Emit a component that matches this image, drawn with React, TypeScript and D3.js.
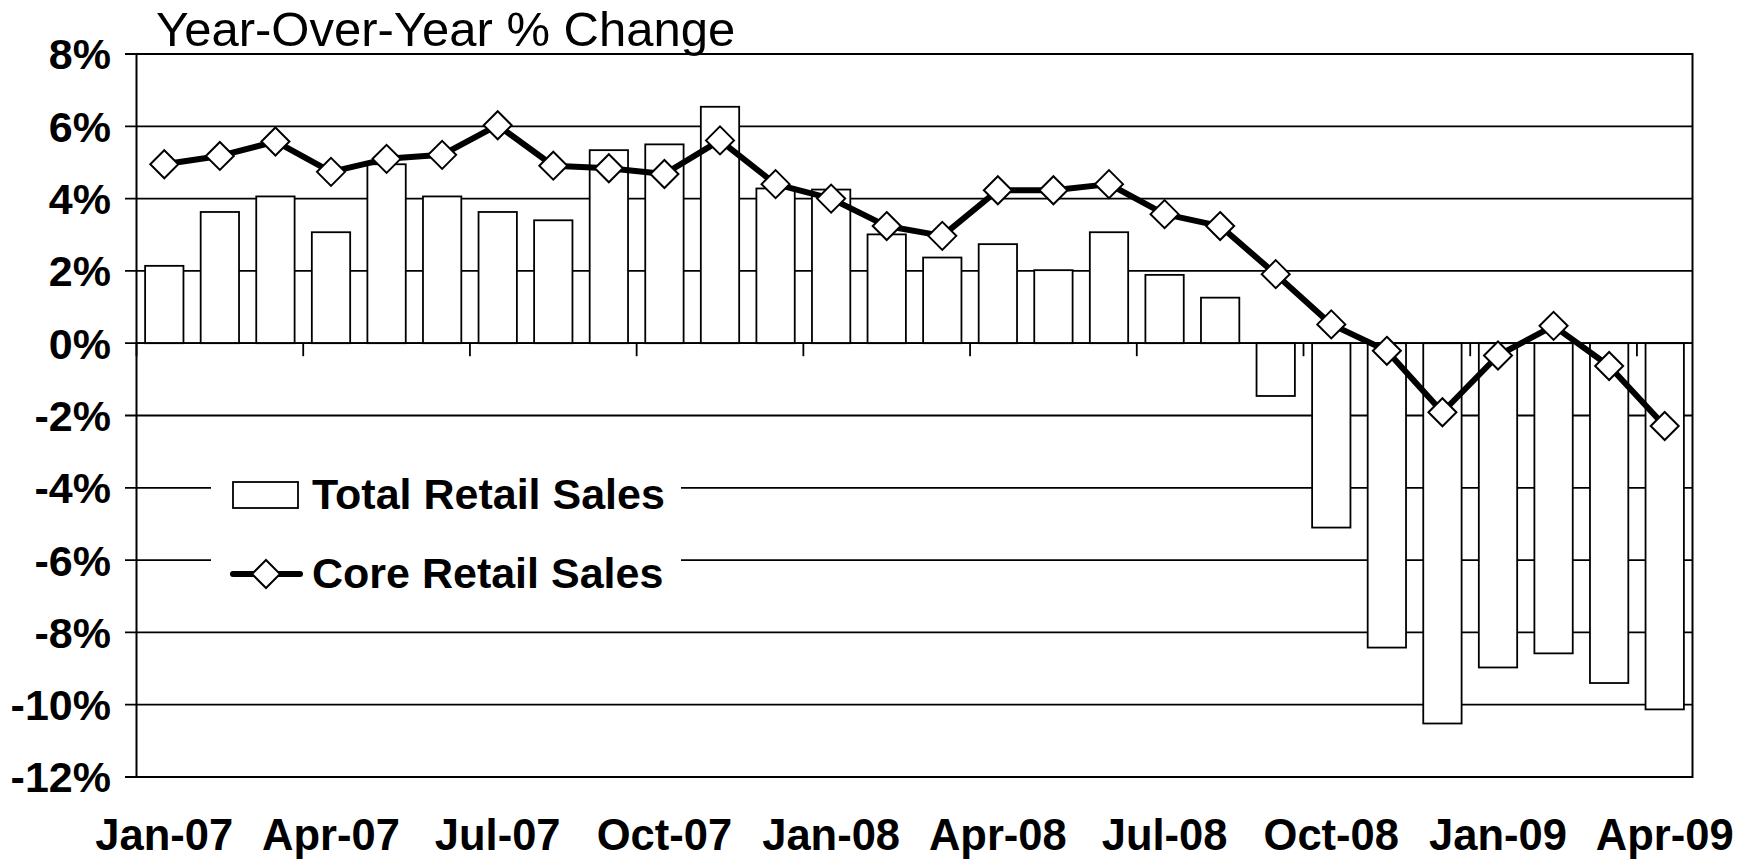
import React from "react";
import * as d3 from "d3";

const months = [
  "Jan-07","Feb-07","Mar-07","Apr-07","May-07","Jun-07","Jul-07","Aug-07","Sep-07","Oct-07","Nov-07","Dec-07",
  "Jan-08","Feb-08","Mar-08","Apr-08","May-08","Jun-08","Jul-08","Aug-08","Sep-08","Oct-08","Nov-08","Dec-08",
  "Jan-09","Feb-09","Mar-09","Apr-09",
];
const totalRetail = [
  2.14, 3.63, 4.06, 3.07, 4.95, 4.06, 3.63, 3.40, 5.34, 5.50, 6.54, 4.28,
  4.25, 3.01, 2.37, 2.74, 2.02, 3.07, 1.89, 1.26, -1.46, -5.10, -8.42, -10.52,
  -8.97, -8.58, -9.40, -10.13,
];
const coreRetail = [
  4.95, 5.18, 5.58, 4.74, 5.10, 5.21, 6.03, 4.91, 4.84, 4.68, 5.61, 4.40,
  4.00, 3.24, 2.97, 4.23, 4.23, 4.40, 3.57, 3.24, 1.91, 0.52, -0.21, -1.91,
  -0.34, 0.48, -0.63, -2.29,
];
const yTicks = [8, 6, 4, 2, 0, -2, -4, -6, -8, -10, -12];
const xLabelIdx = [0, 3, 6, 9, 12, 15, 18, 21, 24, 27];
const title = "Year-Over-Year % Change";
const legendLabels = ["Total Retail Sales", "Core Retail Sales"];

const W = 1749, H = 866;
const L = 136.5, R = 1692.5, T = 54, B = 777;
const FONT = "'Liberation Sans', Arial, Helvetica, sans-serif";

export default function App() {
  const idx = months.map((_, i) => i);
  const x = d3.scaleBand<number>().domain(idx).range([L, R]).paddingInner(0.31).paddingOuter(0.155);
  const xb = d3.scaleLinear().domain([0, months.length]).range([L, R]);
  const y = d3.scaleLinear().domain([-12, 8]).range([B, T]);
  const cx = (i: number) => (x(i) as number) + x.bandwidth() / 2;
  const line = d3.line<number>().x((_, i) => cx(i)).y((d) => y(d));
  const dm = 14;
  const diamond = (px: number, py: number) =>
    `M${px},${py - dm}L${px + dm},${py}L${px},${py + dm}L${px - dm},${py}Z`;

  return (
    <svg width={W} height={H} style={{ position: "absolute", left: 0, top: 0, background: "#fff" }}>
      <rect x={0} y={0} width={W} height={H} fill="#fff" />
      <text x={156} y={46} fontFamily={FONT} fontSize={49} fill="#000">{title}</text>
      {/* gridlines + y ticks */}
      {yTicks.map((t) => (
        <g key={t}>
          <line x1={125} x2={R} y1={y(t)} y2={y(t)} stroke="#000" strokeWidth={1.8} />
          <text x={111} y={y(t)} dy="0.36em" textAnchor="end" fontFamily={FONT} fontWeight="bold" fontSize={43} fill="#000">
            {t}%
          </text>
        </g>
      ))}
      {/* bars */}
      {totalRetail.map((v, i) => (
        <rect key={i} x={x(i)} y={Math.min(y(v), y(0))} width={x.bandwidth()} height={Math.abs(y(v) - y(0))}
          fill="#fff" stroke="#000" strokeWidth={1.8} />
      ))}
      {/* zero axis and ticks */}
      <line x1={L} x2={R} y1={y(0)} y2={y(0)} stroke="#000" strokeWidth={1.8} />
      {xLabelIdx.map((i) => (
        <line key={i} x1={xb(i)} x2={xb(i)} y1={y(0)} y2={y(0) + 13} stroke="#000" strokeWidth={1.8} />
      ))}
      {/* plot border */}
      <rect x={L} y={T} width={R - L} height={B - T} fill="none" stroke="#000" strokeWidth={2} />
      {/* core line */}
      <path d={line(coreRetail) || ""} fill="none" stroke="#000" strokeWidth={6} strokeLinejoin="round" />
      {coreRetail.map((v, i) => (
        <path key={i} d={diamond(cx(i), y(v))} fill="#fff" stroke="#000" strokeWidth={2} />
      ))}
      {/* x labels */}
      {xLabelIdx.map((i) => (
        <text key={i} x={cx(i)} y={850} textAnchor="middle" fontFamily={FONT} fontWeight="bold" fontSize={43.5} fill="#000">
          {months[i]}
        </text>
      ))}
      {/* legend */}
      <rect x={211} y={455} width={470} height={155} fill="#fff" />
      <rect x={233} y={482} width={65} height={26} fill="#fff" stroke="#000" strokeWidth={1.8} />
      <text x={312} y={509} fontFamily={FONT} fontWeight="bold" fontSize={43} fill="#000">{legendLabels[0]}</text>
      <line x1={233} x2={300} y1={574} y2={574} stroke="#000" strokeWidth={6} strokeLinecap="round" />
      <path d={diamond(266, 574)} fill="#fff" stroke="#000" strokeWidth={2} />
      <text x={312} y={588} fontFamily={FONT} fontWeight="bold" fontSize={43} fill="#000">{legendLabels[1]}</text>
    </svg>
  );
}
